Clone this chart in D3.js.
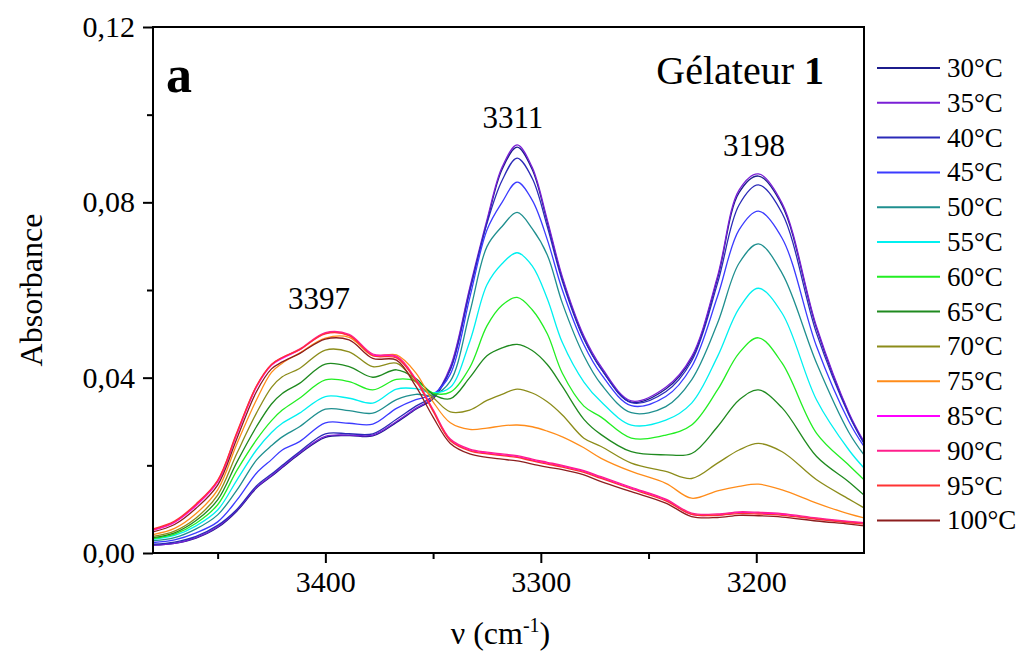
<!DOCTYPE html>
<html>
<head>
<meta charset="utf-8">
<script src="https://cdn.jsdelivr.net/npm/d3@7"></script>
<style>
  body { margin: 0; background: #fff; }
  svg text { font-family: "Liberation Serif", "Times New Roman", serif; fill: #000; }
</style>
</head>
<body>
<div id="chart"></div>
<script>
// wavenumbers (cm-1) where the spectra were read
var wavenumbers = [3480, 3470, 3460, 3450, 3441, 3432, 3425, 3420, 3412, 3400, 3389, 3378, 3367, 3358, 3350, 3342,
  3333, 3325, 3318, 3311, 3304, 3297, 3290, 3280, 3272, 3258, 3242, 3230, 3218, 3208, 3199, 3188, 3172, 3157, 3150];

var temperatures = ["30°C", "35°C", "40°C", "45°C", "50°C", "55°C", "60°C", "65°C", "70°C", "75°C", "85°C", "90°C", "95°C", "100°C"];
var colors = ["#1c1c8c", "#7a1fd6", "#2a2ab8", "#3b3bff", "#1f8f8f", "#00f0f0", "#22ee22", "#1f8a1f",
  "#8c8c1a", "#ff8c1a", "#ff00ff", "#ff1f8c", "#ff3333", "#8c1e1e"];

// absorbance for each temperature
var a30 = [0.0018, 0.0022, 0.0034, 0.0058, 0.0096, 0.0148, 0.0175, 0.0195, 0.0226, 0.0264, 0.0268, 0.0267, 0.0298, 0.0328, 0.0352, 0.0420,
  0.0600, 0.0755, 0.0875, 0.0926, 0.0875, 0.0755, 0.0625, 0.0490, 0.0420, 0.0344, 0.0374, 0.0444, 0.0626, 0.0822, 0.0860, 0.0793, 0.0512, 0.0317, 0.0251];
var a35 = [0.0018, 0.0022, 0.0035, 0.0060, 0.0098, 0.0150, 0.0177, 0.0197, 0.0228, 0.0266, 0.0269, 0.0269, 0.0300, 0.0330, 0.0355, 0.0425,
  0.0605, 0.0760, 0.0880, 0.0931, 0.0880, 0.0760, 0.0630, 0.0495, 0.0425, 0.0347, 0.0378, 0.0448, 0.0631, 0.0828, 0.0865, 0.0798, 0.0516, 0.0320, 0.0254];
var a40 = [0.0020, 0.0025, 0.0038, 0.0063, 0.0100, 0.0153, 0.0180, 0.0200, 0.0231, 0.0272, 0.0272, 0.0272, 0.0305, 0.0335, 0.0358, 0.0418,
  0.0597, 0.0752, 0.0850, 0.0901, 0.0855, 0.0745, 0.0620, 0.0488, 0.0420, 0.0343, 0.0368, 0.0438, 0.0615, 0.0794, 0.0840, 0.0775, 0.0501, 0.0315, 0.0250];
var a45 = [0.0024, 0.0030, 0.0046, 0.0071, 0.0121, 0.0182, 0.0213, 0.0235, 0.0254, 0.0297, 0.0296, 0.0294, 0.0330, 0.0350, 0.0362, 0.0408,
  0.0582, 0.0737, 0.0800, 0.0846, 0.0805, 0.0715, 0.0600, 0.0475, 0.0408, 0.0336, 0.0357, 0.0425, 0.0585, 0.0737, 0.0780, 0.0718, 0.0471, 0.0300, 0.0243];
var a50 = [0.0028, 0.0035, 0.0055, 0.0087, 0.0144, 0.0212, 0.0245, 0.0265, 0.0288, 0.0328, 0.0325, 0.0319, 0.0350, 0.0362, 0.0360, 0.0392,
  0.0548, 0.0699, 0.0745, 0.0777, 0.0740, 0.0680, 0.0570, 0.0450, 0.0385, 0.0320, 0.0334, 0.0395, 0.0524, 0.0661, 0.0705, 0.0638, 0.0433, 0.0275, 0.0224];
var a55 = [0.0031, 0.0040, 0.0062, 0.0098, 0.0167, 0.0235, 0.0275, 0.0296, 0.0319, 0.0357, 0.0353, 0.0342, 0.0374, 0.0375, 0.0365, 0.0378,
  0.0482, 0.0612, 0.0660, 0.0685, 0.0655, 0.0580, 0.0480, 0.0390, 0.0345, 0.0292, 0.0303, 0.0342, 0.0448, 0.0558, 0.0604, 0.0547, 0.0349, 0.0235, 0.0194];
var a60 = [0.0033, 0.0043, 0.0068, 0.0110, 0.0189, 0.0258, 0.0302, 0.0326, 0.0353, 0.0395, 0.0391, 0.0372, 0.0396, 0.0392, 0.0365, 0.0367,
  0.0423, 0.0518, 0.0565, 0.0583, 0.0555, 0.0500, 0.0410, 0.0335, 0.0310, 0.0262, 0.0269, 0.0292, 0.0372, 0.0456, 0.0491, 0.0433, 0.0273, 0.0200, 0.0167];
var a65 = [0.0035, 0.0046, 0.0074, 0.0121, 0.0208, 0.0288, 0.0340, 0.0364, 0.0387, 0.0431, 0.0425, 0.0401, 0.0418, 0.0398, 0.0362, 0.0352,
  0.0400, 0.0450, 0.0468, 0.0476, 0.0462, 0.0430, 0.0380, 0.0305, 0.0270, 0.0231, 0.0224, 0.0227, 0.0288, 0.0349, 0.0372, 0.0331, 0.0220, 0.0162, 0.0132];
var a70 = [0.0038, 0.0050, 0.0080, 0.0132, 0.0228, 0.0319, 0.0378, 0.0402, 0.0421, 0.0463, 0.0459, 0.0425, 0.0433, 0.0390, 0.0355, 0.0322,
  0.0326, 0.0348, 0.0362, 0.0374, 0.0365, 0.0345, 0.0315, 0.0262, 0.0243, 0.0205, 0.0186, 0.0170, 0.0205, 0.0235, 0.0250, 0.0231, 0.0167, 0.0123, 0.0103];
var a75 = [0.0042, 0.0056, 0.0090, 0.0144, 0.0250, 0.0349, 0.0412, 0.0433, 0.0456, 0.0490, 0.0492, 0.0450, 0.0452, 0.0411, 0.0345, 0.0297,
  0.0282, 0.0285, 0.0290, 0.0292, 0.0288, 0.0278, 0.0265, 0.0240, 0.0216, 0.0186, 0.0159, 0.0125, 0.0142, 0.0152, 0.0157, 0.0144, 0.0114, 0.0089, 0.0080];
var a85 = [0.0052, 0.0070, 0.0108, 0.0162, 0.0272, 0.0378, 0.0428, 0.0444, 0.0463, 0.0501, 0.0497, 0.0452, 0.0447, 0.0395, 0.0325, 0.0258,
  0.0235, 0.0228, 0.0224, 0.0220, 0.0212, 0.0205, 0.0198, 0.0186, 0.0172, 0.0148, 0.0121, 0.0088, 0.0087, 0.0092, 0.0091, 0.0088, 0.0078, 0.0071, 0.0068];
var a90 = [0.0053, 0.0071, 0.0110, 0.0164, 0.0274, 0.0380, 0.0430, 0.0446, 0.0465, 0.0503, 0.0499, 0.0454, 0.0449, 0.0397, 0.0327, 0.0260,
  0.0237, 0.0230, 0.0226, 0.0222, 0.0214, 0.0207, 0.0200, 0.0188, 0.0174, 0.0150, 0.0123, 0.0091, 0.0089, 0.0094, 0.0093, 0.0090, 0.0080, 0.0072, 0.0069];
var a95 = [0.0055, 0.0073, 0.0112, 0.0166, 0.0276, 0.0381, 0.0430, 0.0446, 0.0464, 0.0500, 0.0496, 0.0450, 0.0445, 0.0393, 0.0323, 0.0256,
  0.0233, 0.0226, 0.0222, 0.0218, 0.0210, 0.0203, 0.0196, 0.0184, 0.0170, 0.0146, 0.0119, 0.0088, 0.0086, 0.0090, 0.0089, 0.0086, 0.0077, 0.0069, 0.0066];
var a100 = [0.0048, 0.0065, 0.0102, 0.0155, 0.0262, 0.0368, 0.0420, 0.0436, 0.0455, 0.0488, 0.0486, 0.0444, 0.0440, 0.0380, 0.0310, 0.0250,
  0.0226, 0.0218, 0.0214, 0.0210, 0.0203, 0.0196, 0.0190, 0.0178, 0.0163, 0.0140, 0.0114, 0.0083, 0.0081, 0.0086, 0.0085, 0.0082, 0.0073, 0.0066, 0.0062];

var absorbance = [a30, a35, a40, a45, a50, a55, a60, a65, a70, a75, a85, a90, a95, a100];

// peak labels: text, and where the label sits (wavenumber, absorbance)
var peakLabels = ["3397", "3311", "3198"];
var peakLabelWavenumbers = [3403, 3313, 3201];
var peakLabelValues = [0.0557, 0.0970, 0.0905];

var yTicks = [0, 0.04, 0.08, 0.12];
var yMinor = [0.02, 0.06, 0.10];
var xTicks = [3400, 3300, 3200];
var xMinor = [3450, 3350, 3250];

var margin = {top: 27, right: 156, bottom: 98, left: 153},
    width = 1020 - margin.left - margin.right,
    height = 651 - margin.top - margin.bottom;

var svg = d3.select("#chart")
  .append("svg")
    .attr("width", 1020)
    .attr("height", 651)
    .attr("font-family", "Liberation Serif");

var g = svg.append("g")
    .attr("transform", "translate(" + margin.left + "," + margin.top + ")");

var x = d3.scaleLinear().domain([3480, 3150]).range([0, width]);
var y = d3.scaleLinear().domain([0, 0.12]).range([height, 0]);

g.append("clipPath").attr("id", "clip")
  .append("rect").attr("width", width).attr("height", height);

var line = d3.line()
    .x(function(d, i) { return x(wavenumbers[i]); })
    .y(function(d) { return y(d); })
    .curve(d3.curveCatmullRom.alpha(0.5));

// spectra
g.append("g").attr("clip-path", "url(#clip)")
  .selectAll("path")
  .data(absorbance)
  .enter()
  .append("path")
    .attr("d", line)
    .attr("fill", "none")
    .attr("stroke", function(d, i) { return colors[i]; })
    .attr("stroke-width", 1.3);

// frame
g.append("rect")
    .attr("width", width)
    .attr("height", height)
    .attr("fill", "none")
    .attr("stroke", "#000")
    .attr("stroke-width", 2);

// y axis
var yAxis = g.append("g")
    .call(d3.axisLeft(y).tickValues(yTicks).tickSize(10).tickPadding(8)
      .tickFormat(function(d) { return d3.format(".2f")(d).replace(".", ","); }));
yAxis.attr("font-family", null);
yAxis.select(".domain").remove();
yAxis.selectAll("line").attr("stroke-width", 2);
yAxis.selectAll("text").style("font-size", "30px");

var yAxisMinor = g.append("g")
    .call(d3.axisLeft(y).tickValues(yMinor).tickSize(6).tickFormat(""));
yAxisMinor.select(".domain").remove();
yAxisMinor.selectAll("line").attr("stroke-width", 2);

// x axis
var xAxis = g.append("g")
    .attr("transform", "translate(0," + height + ")")
    .call(d3.axisBottom(x).tickValues(xTicks).tickSize(10).tickPadding(8).tickFormat(d3.format("d")));
xAxis.attr("font-family", null);
xAxis.select(".domain").remove();
xAxis.selectAll("line").attr("stroke-width", 2);
xAxis.selectAll("text").style("font-size", "30px");

var xAxisMinor = g.append("g")
    .attr("transform", "translate(0," + height + ")")
    .call(d3.axisBottom(x).tickValues(xMinor).tickSize(6).tickFormat(""));
xAxisMinor.select(".domain").remove();
xAxisMinor.selectAll("line").attr("stroke-width", 2);

// axis titles
svg.append("text")
    .attr("transform", "translate(42," + (margin.top + height / 2) + ") rotate(-90)")
    .attr("text-anchor", "middle")
    .style("font-size", "32px")
    .text("Absorbance");

var xTitle = svg.append("text")
    .attr("x", margin.left + width / 2 - 8)
    .attr("y", 644)
    .attr("text-anchor", "middle")
    .style("font-size", "32px");
xTitle.append("tspan").text("ν (cm");
xTitle.append("tspan").attr("dy", -12).style("font-size", "20px").text("-1");
xTitle.append("tspan").attr("dy", 12).text(")");

// peak labels
g.selectAll(".peak")
  .data(peakLabels)
  .enter()
  .append("text")
    .attr("class", "peak")
    .attr("x", function(d, i) { return x(peakLabelWavenumbers[i]); })
    .attr("y", function(d, i) { return y(peakLabelValues[i]); })
    .attr("text-anchor", "middle")
    .style("font-size", "31px")
    .text(function(d) { return d; });

// panel letter and title
g.append("text")
    .attr("x", 13)
    .attr("y", 65)
    .style("font-size", "52px")
    .style("font-weight", "bold")
    .text("a");

var title = g.append("text")
    .attr("x", width - 40)
    .attr("y", 57)
    .attr("text-anchor", "end")
    .style("font-size", "40px");
title.append("tspan").text("Gélateur ");
title.append("tspan").style("font-weight", "bold").text("1");

// legend
var legend = svg.append("g")
    .attr("transform", "translate(" + (margin.left + width) + ",0)");

var rows = legend.selectAll(".row")
  .data(temperatures)
  .enter()
  .append("g")
    .attr("class", "row")
    .attr("transform", function(d, i) { return "translate(0," + (68 + i * 34.8) + ")"; });

rows.append("line")
    .attr("x1", 13)
    .attr("x2", 76)
    .attr("stroke", function(d, i) { return colors[i]; })
    .attr("stroke-width", 2);

rows.append("text")
    .attr("x", 83)
    .attr("y", 9)
    .style("font-size", "27px")
    .text(function(d) { return d; });
</script>
</body>
</html>
